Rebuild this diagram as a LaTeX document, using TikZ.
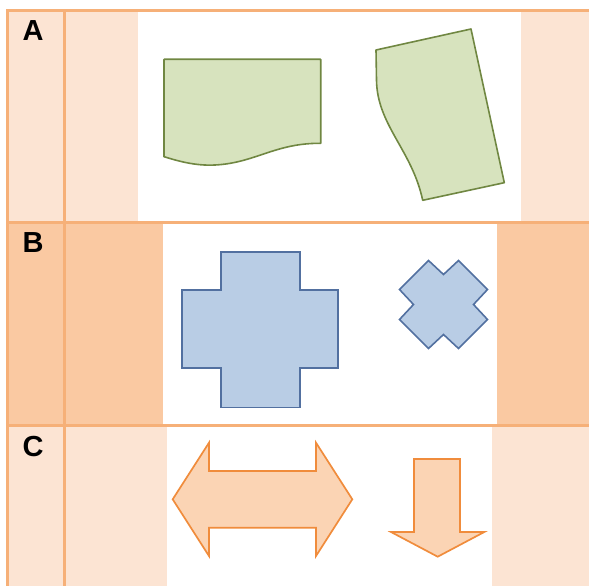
\documentclass[tikz,border=0pt]{standalone}
\usepackage{fontspec}
\setmainfont{Liberation Sans}
\definecolor{cellLight}{RGB}{252,228,211}
\definecolor{cellDark}{RGB}{250,201,162}
\definecolor{gridLine}{RGB}{246,176,120}
\definecolor{leafFill}{RGB}{215,227,190}
\definecolor{leafLine}{RGB}{112,135,66}
\definecolor{skyFill}{RGB}{185,205,229}
\definecolor{skyLine}{RGB}{82,112,160}
\definecolor{peachFill}{RGB}{251,212,180}
\definecolor{peachLine}{RGB}{240,140,60}
\tikzset{
  rowlabel/.style={anchor=base, inner sep=0pt, font=\fontsize{29}{29}\selectfont\bfseries},
  gridrule/.style={draw=gridLine, line width=3pt},
  greenshape/.style={fill=leafFill, draw=leafLine, line width=1.6pt, line join=round},
  blueshape/.style={fill=skyFill, draw=skyLine, line width=1.6pt, line join=miter},
  orangeshape/.style={fill=peachFill, draw=peachLine, line width=1.7pt, line join=miter}
}
\begin{document}
\begin{tikzpicture}[x=1pt,y=-1pt]
\useasboundingbox (0,0) rectangle (589,586);
% Cell backgrounds (row A)
\fill[cellLight] (7.5,10.7) rectangle (138,222);
\fill[cellLight] (521,10.7) rectangle (589,222);
% Cell backgrounds (row B)
\fill[cellDark] (7.5,222) rectangle (163,425);
\fill[cellDark] (497,222) rectangle (589,425);
% Cell backgrounds (row C)
\fill[cellLight] (7.5,425) rectangle (167,586);
\fill[cellLight] (492,425) rectangle (589,586);

% Table rules
\draw[gridrule] (6,10.7) -- (589,10.7);
\draw[gridrule] (6,222) -- (589,222);
\draw[gridrule] (6,425) -- (589,425);
\draw[gridrule] (7.5,9.2) -- (7.5,586);
\draw[gridrule] (64,9.2) -- (64,586);

% Row labels
\node[rowlabel] (labA) at (33,41) {A};
\node[rowlabel] (labB) at (33,252.3) {B};
\node[rowlabel] (labC) at (33,456.8) {C};

% Row A: document shape and its rotated copy
\draw[greenshape] (164,59.3) -- (320.7,59.3) -- (320.7,143.3)
  .. controls (275,143) and (255,163) .. (215,165)
  .. controls (195,166) and (178,161) .. (164,156.7) -- cycle;
\draw[greenshape] (376,50) -- (471,29) -- (504.3,182.7) -- (422.7,200.3)
  .. controls (412,150) and (377,125) .. (376.5,80) -- cycle;

% Row B: plus and multiply
\draw[blueshape] (221,251.7) -- (299.7,251.7) -- (299.7,290) -- (337.7,290)
  -- (337.7,367.7) -- (299.7,367.7) -- (299.7,407.3) -- (221,407.3)
  -- (221,367.7) -- (181.7,367.7) -- (181.7,290) -- (221,290) -- cycle;
\draw[blueshape, shift={(443.5,304.5)}] (-15,-44) -- (0,-30) -- (15,-44)
  -- (44,-15) -- (30,0) -- (44,15) -- (15,44) -- (0,30) -- (-15,44)
  -- (-44,15) -- (-30,0) -- (-44,-15) -- cycle;

% Row C: left-right arrow and down arrow
\draw[orangeshape] (172.7,499.3) -- (209,442.7) -- (209,471) -- (316,471)
  -- (316,442.7) -- (352.3,499.3) -- (316,556) -- (316,527.7)
  -- (209,527.7) -- (209,556) -- cycle;
\draw[orangeshape] (414,459) -- (460,459) -- (460,532) -- (484.3,532)
  -- (437.7,556.7) -- (391,532) -- (414,532) -- cycle;
\end{tikzpicture}
\end{document}
